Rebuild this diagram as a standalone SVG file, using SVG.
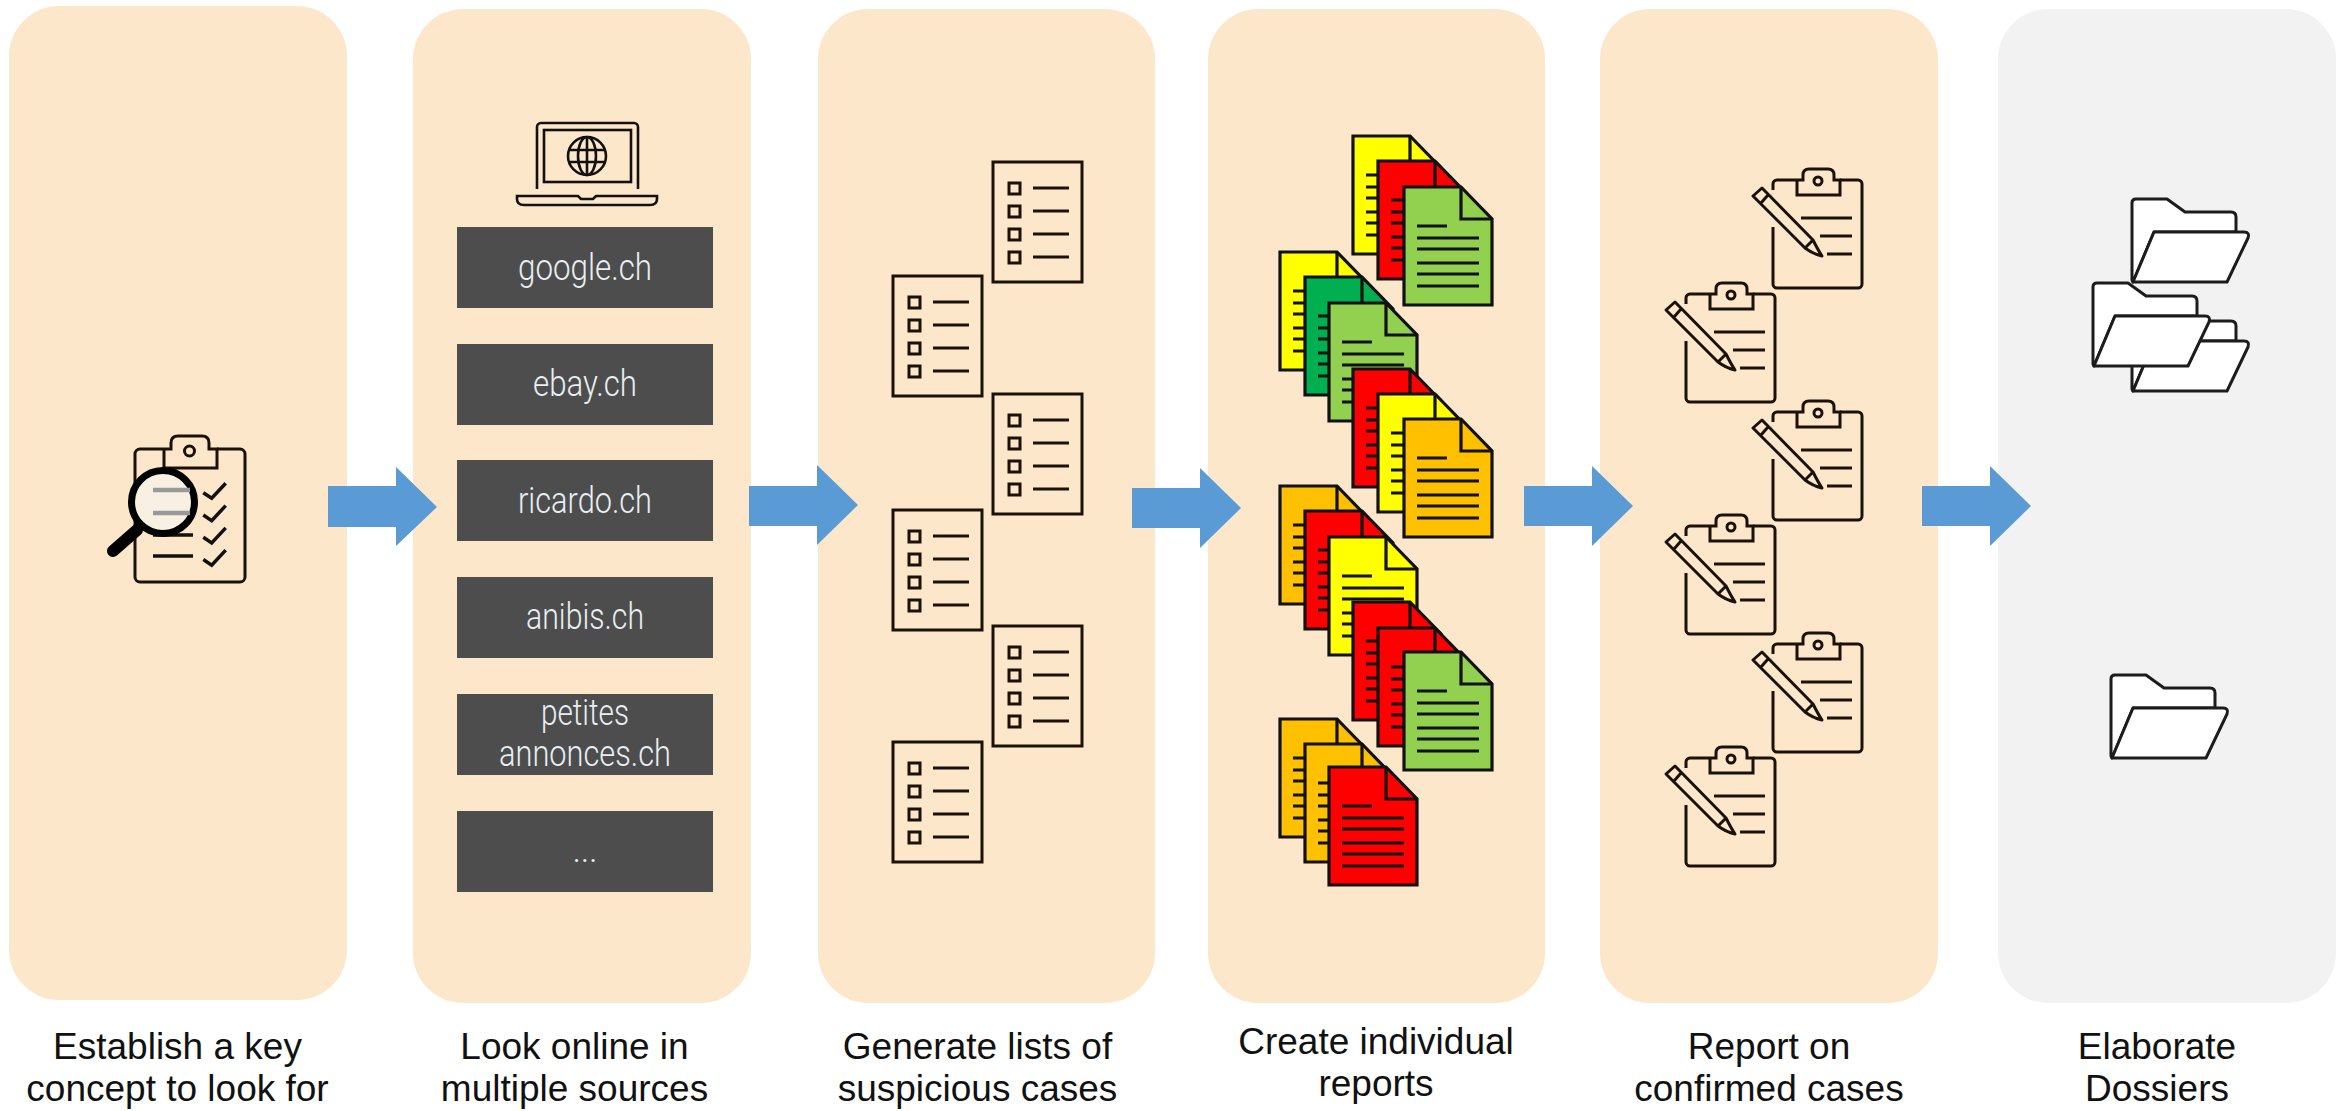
<svg xmlns="http://www.w3.org/2000/svg" width="2344" height="1111" viewBox="0 0 2344 1111">
<style>
.p{fill:#fde7cb}.g{fill:#f2f2f2}
.a{fill:#5b9bd5}
.cap{font-family:"Liberation Sans",Arial,sans-serif;font-size:37px;fill:#111;text-anchor:middle}
.b{fill:#4d4d4d}
.bt{font-family:"Roboto","Liberation Sans",sans-serif;font-weight:300;font-size:36px;fill:#e8eff3;text-anchor:middle}
.k{fill:none;stroke:#1a1208;stroke-width:3}
.d{stroke:#111;stroke-width:3.2;stroke-linejoin:miter}
.dl{stroke:#111;stroke-width:3.2;fill:none}
.f{fill:#fff;stroke:#1c1c1c;stroke-width:3;stroke-linejoin:round}
</style>
<defs>
<g id="list"><rect x="0" y="0" width="89" height="120" class="k"/><path class="k" d="M40 26H76M40 49H76M40 72H76M40 95H76"/><path class="k" d="M16 21h11v11h-11zM16 44h11v11h-11zM16 67h11v11h-11zM16 90h11v11h-11z"/></g>
<g id="doc"><path class="d" d="M0 0H57L88 32V118H0Z"/><path class="dl" d="M57 0V32H88M13 39H43M13 51H75M13 62H75M13 76H75M13 87H75M13 99H75"/></g>
<g id="clip"><path class="k" d="M0 10V4a4 4 0 0 1 4-4H24M67 0H85a4 4 0 0 1 4 4V104a4 4 0 0 1-4 4H4a4 4 0 0 1-4-4V47"/><path class="k" d="M24 0V15H67V0H61V-5Q61-11 55-11H36Q30-11 30-5V0H24"/><circle class="k" cx="45" cy="1" r="4"/><path class="k" d="M28 38H79M47 56H79M54 74H79"/><path class="k" stroke-linejoin="round" d="M-20 16L-11 8L40 60Q45 70 49 76Q40 74 32 68ZM-5 15L-12 23M32 68L40 60"/></g>
<g id="fold"><path class="f" d="M0 81V4Q0 0 4 0H35L53 13H99Q104 13 104 18V33H22L1 83Z"/><path class="f" d="M22 33H112Q118 33 116 39L95 83H1Z"/></g>
</defs>

<g id="panel-1"><rect class="p" x="9" y="6" width="338" height="994" rx="50"/>
<g id="concept-icon">
<path class="k" d="M164 449H140a5 5 0 0 0-5 5V577a5 5 0 0 0 5 5H240a5 5 0 0 0 5-5V454a5 5 0 0 0-5-5H217"/>
<path class="k" d="M164 449V468H217V449H209V443Q209 436 202 436H178Q171 436 171 443V449H164"/>
<circle class="k" cx="189.500" cy="451" r="5"/>
<path stroke="#111" stroke-width="3.500" fill="none" d="M153 535H193M153 556H193M203.300 492.700L211.700 498.300L225.700 483.300M203.300 515L211.700 520.600L225.700 505.600M203.300 537.300L211.700 542.900L225.700 527.900M203.300 559.500L211.700 565.100L225.700 550.100"/>
<circle cx="163" cy="502" r="31.500" fill="#f9f0e4" stroke="#000" stroke-width="7"/>
<path stroke="#999" stroke-width="4.500" d="M153 490H190M153 513H190"/>
<path stroke="#000" stroke-width="12" stroke-linecap="round" d="M137 530L113 551"/>
</g></g>

<g id="panel-2"><rect class="p" x="413" y="9" width="338" height="994" rx="50"/>
<g id="laptop" fill="none" stroke="#111" stroke-width="2.600"><path d="M537 189V127a4 4 0 0 1 4-4H634a4 4 0 0 1 4 4V189"/><rect x="544" y="130" width="87" height="52"/><circle cx="587" cy="156" r="19"/><ellipse cx="587" cy="156" rx="9" ry="19"/><path d="M587 137V175M568 150H606M568 162H606"/><path d="M517 196H578L581 199H593L596 196H657V199Q657 205 650 205H524Q517 205 517 199Z"/></g>
<g id="src-1"><rect class="b" x="457" y="227" width="256" height="81"/><text class="bt" x="585" y="280" textLength="134" lengthAdjust="spacingAndGlyphs">google.ch</text></g>
<g id="src-2"><rect class="b" x="457" y="344" width="256" height="81"/><text class="bt" x="585" y="396" textLength="104" lengthAdjust="spacingAndGlyphs">ebay.ch</text></g>
<g id="src-3"><rect class="b" x="457" y="460" width="256" height="81"/><text class="bt" x="585" y="513" textLength="134" lengthAdjust="spacingAndGlyphs">ricardo.ch</text></g>
<g id="src-4"><rect class="b" x="457" y="577" width="256" height="81"/><text class="bt" x="585" y="629" textLength="118" lengthAdjust="spacingAndGlyphs">anibis.ch</text></g>
<g id="src-5"><rect class="b" x="457" y="694" width="256" height="81"/><text class="bt" x="585" y="725" textLength="88" lengthAdjust="spacingAndGlyphs">petites</text><text class="bt" x="585" y="766" textLength="172" lengthAdjust="spacingAndGlyphs">annonces.ch</text></g>
<g id="src-6"><rect class="b" x="457" y="811" width="256" height="81"/><text class="bt" x="585" y="862" textLength="25">...</text></g>
</g>

<g id="panel-3"><rect class="p" x="818" y="9" width="337" height="994" rx="50"/>
<use href="#list" x="993" y="162"/><use href="#list" x="893" y="276"/><use href="#list" x="993" y="394"/><use href="#list" x="893" y="510"/><use href="#list" x="993" y="626"/><use href="#list" x="893" y="742"/>
</g>

<g id="panel-4"><rect class="p" x="1208" y="9" width="337" height="994" rx="50"/>
<g id="stack-1"><use href="#doc" x="1353" y="136" fill="#ffff00"/><use href="#doc" x="1378" y="161" fill="#ff0000"/><use href="#doc" x="1404" y="187" fill="#92d050"/></g>
<g id="stack-2"><use href="#doc" x="1280" y="252" fill="#ffff00"/><use href="#doc" x="1305" y="277" fill="#00b050"/><use href="#doc" x="1329" y="303" fill="#92d050"/></g>
<g id="stack-3"><use href="#doc" x="1353" y="369" fill="#ff0000"/><use href="#doc" x="1378" y="394" fill="#ffff00"/><use href="#doc" x="1404" y="419" fill="#ffc000"/></g>
<g id="stack-4"><use href="#doc" x="1280" y="486" fill="#ffc000"/><use href="#doc" x="1305" y="511" fill="#ff0000"/><use href="#doc" x="1329" y="537" fill="#ffff00"/></g>
<g id="stack-5"><use href="#doc" x="1353" y="602" fill="#ff0000"/><use href="#doc" x="1378" y="628" fill="#ff0000"/><use href="#doc" x="1404" y="652" fill="#92d050"/></g>
<g id="stack-6"><use href="#doc" x="1280" y="719" fill="#ffc000"/><use href="#doc" x="1305" y="744" fill="#ffc000"/><use href="#doc" x="1329" y="767" fill="#ff0000"/></g>
</g>

<g id="panel-5"><rect class="p" x="1600" y="9" width="338" height="994" rx="50"/>
<use href="#clip" x="1773" y="180"/><use href="#clip" x="1686" y="294"/><use href="#clip" x="1773" y="412"/><use href="#clip" x="1686" y="526"/><use href="#clip" x="1773" y="644"/><use href="#clip" x="1686" y="758"/>
</g>

<g id="panel-6"><rect class="g" x="1998" y="9" width="338" height="994" rx="50"/>
<use href="#fold" x="2132" y="199"/><use href="#fold" x="2132" y="308"/><use href="#fold" x="2093" y="283"/><use href="#fold" x="2111" y="675"/>
</g>

<g id="connectors">
<path class="a" d="M328 486H396V467L437 507L396 546V527H328Z"/>
<path class="a" d="M749 486H817V465L858 505L817 545V526H749Z"/>
<path class="a" d="M1132 488H1200V468L1241 508L1200 548V528H1132Z"/>
<path class="a" d="M1524 486H1592V466L1633 506L1592 546V526H1524Z"/>
<path class="a" d="M1922 486H1990V466L2031 506L1990 546V526H1922Z"/>
</g>

<g id="captions">
<text class="cap" x="177.500" y="1059">Establish a key</text><text class="cap" x="177.500" y="1101">concept to look for</text>
<text class="cap" x="574.500" y="1059">Look online in</text><text class="cap" x="574.500" y="1101">multiple sources</text>
<text class="cap" x="977.500" y="1059">Generate lists of</text><text class="cap" x="977.500" y="1101">suspicious cases</text>
<text class="cap" x="1376" y="1054">Create individual</text><text class="cap" x="1376" y="1096">reports</text>
<text class="cap" x="1769" y="1059">Report on</text><text class="cap" x="1769" y="1101">confirmed cases</text>
<text class="cap" x="2157" y="1059">Elaborate</text><text class="cap" x="2157" y="1101">Dossiers</text>
</g>
</svg>
